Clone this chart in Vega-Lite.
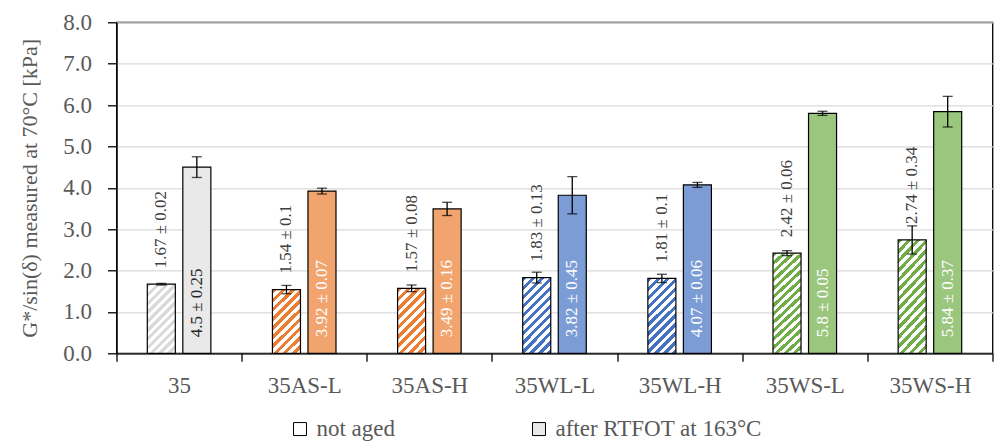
{
  "$schema": "https://vega.github.io/schema/vega-lite/v6.json",
  "autosize": {"type": "none"},
  "width": 876,
  "height": 331,
  "padding": {"left": 116.5, "top": 22.3, "right": 1.5, "bottom": 88},
  "background": "white",
  "config": {
    "view": {"stroke": "black", "strokeWidth": 1.3},
    "font": "Liberation Serif"
  },
  "data": {
    "values": [
      {"cat": "35", "family": "35", "group": "not aged", "value": 1.67, "sd": 0.02, "label": "1.67 ± 0.02"},
      {"cat": "35", "family": "35", "group": "after RTFOT at 163°C", "value": 4.5, "sd": 0.25, "label": "4.5 ± 0.25"},
      {"cat": "35AS-L", "family": "AS", "group": "not aged", "value": 1.54, "sd": 0.1, "label": "1.54 ± 0.1"},
      {"cat": "35AS-L", "family": "AS", "group": "after RTFOT at 163°C", "value": 3.92, "sd": 0.07, "label": "3.92 ± 0.07"},
      {"cat": "35AS-H", "family": "AS", "group": "not aged", "value": 1.57, "sd": 0.08, "label": "1.57 ± 0.08"},
      {"cat": "35AS-H", "family": "AS", "group": "after RTFOT at 163°C", "value": 3.49, "sd": 0.16, "label": "3.49 ± 0.16"},
      {"cat": "35WL-L", "family": "WL", "group": "not aged", "value": 1.83, "sd": 0.13, "label": "1.83 ± 0.13"},
      {"cat": "35WL-L", "family": "WL", "group": "after RTFOT at 163°C", "value": 3.82, "sd": 0.45, "label": "3.82 ± 0.45"},
      {"cat": "35WL-H", "family": "WL", "group": "not aged", "value": 1.81, "sd": 0.1, "label": "1.81 ± 0.1"},
      {"cat": "35WL-H", "family": "WL", "group": "after RTFOT at 163°C", "value": 4.07, "sd": 0.06, "label": "4.07 ± 0.06"},
      {"cat": "35WS-L", "family": "WS", "group": "not aged", "value": 2.42, "sd": 0.06, "label": "2.42 ± 0.06"},
      {"cat": "35WS-L", "family": "WS", "group": "after RTFOT at 163°C", "value": 5.8, "sd": 0.05, "label": "5.8 ± 0.05"},
      {"cat": "35WS-H", "family": "WS", "group": "not aged", "value": 2.74, "sd": 0.34, "label": "2.74 ± 0.34"},
      {"cat": "35WS-H", "family": "WS", "group": "after RTFOT at 163°C", "value": 5.84, "sd": 0.37, "label": "5.84 ± 0.37"}
    ]
  },
  "encoding": {
    "x": {
      "field": "cat", "type": "nominal", "sort": null, "title": null,
      "scale": {"paddingInner": 0, "paddingOuter": 0},
      "axis": {"labelAngle": 0, "tickBand": "extent", "tickSize": 8, "tickColor": "black", "tickWidth": 1.3, "domainColor": "black", "domainWidth": 1.3, "labelFont": "Liberation Serif", "labelFontSize": 23, "labelColor": "#595959", "labelPadding": 13, "grid": false}
    },
    "xOffset": {
      "field": "group", "type": "nominal",
      "scale": {"domain": ["not aged", "after RTFOT at 163°C"], "paddingInner": 0.211, "paddingOuter": 0.867}
    },
    "y": {
      "field": "value", "type": "quantitative", "title": "G*/sin(δ) measured at 70°C [kPa]",
      "scale": {"domain": [0, 8], "nice": false},
      "axis": {"values": [0, 1, 2, 3, 4, 5, 6, 7, 8], "format": ".1f", "tickSize": 9, "tickColor": "black", "tickWidth": 1.3, "domainColor": "black", "domainWidth": 1.3, "labelFont": "Liberation Serif", "labelFontSize": 23, "labelColor": "#595959", "labelPadding": 16, "grid": true, "gridColor": "#d9d9d9", "gridWidth": 1.3, "titleFont": "Liberation Serif", "titleFontSize": 22, "titleFontWeight": "normal", "titleColor": "#595959", "titlePadding": 21}
    }
  },
  "layer": [
    {
      "mark": {"type": "bar"},
      "encoding": {
        "fill": {
          "field": "group", "type": "nominal",
          "scale": {"domain": ["not aged", "after RTFOT at 163°C"], "range": ["#ffffff", "#e9e9e9"]},
          "legend": {
            "orient": "none", "legendX": 172, "legendY": 395, "direction": "horizontal", "title": null,
            "symbolType": "square", "symbolSize": 169, "symbolStrokeColor": "black", "symbolStrokeWidth": 1,
            "labelFont": "Liberation Serif", "labelFontSize": 23, "labelColor": "#595959", "labelOffset": 5,
            "columnPadding": 132, "padding": 0, "labelLimit": 400
          }
        }
      }
    },
    {
      "mark": {"type": "bar", "stroke": "black", "strokeWidth": 1.2},
      "encoding": {
        "fill": {
          "condition": [
            {"test": "datum.group !== 'not aged' && datum.family === '35'", "value": "#e9e9e9"},
            {"test": "datum.group !== 'not aged' && datum.family === 'AS'", "value": "#f2a46f"},
            {"test": "datum.group !== 'not aged' && datum.family === 'WL'", "value": "#7c9cd6"},
            {"test": "datum.group !== 'not aged' && datum.family === 'WS'", "value": "#9bc67e"},
            {"test": "datum.family === '35'", "value": {"gradient": "linear", "x1": 0, "y1": 0, "x2": 0.49, "y2": 1.207, "stops": [
              {"offset": 0, "color": "#dadada"}, {"offset": 0.0455, "color": "#dadada"}, {"offset": 0.0455, "color": "#ffffff"}, {"offset": 0.0909, "color": "#ffffff"},
              {"offset": 0.0909, "color": "#dadada"}, {"offset": 0.1364, "color": "#dadada"}, {"offset": 0.1364, "color": "#ffffff"}, {"offset": 0.1818, "color": "#ffffff"},
              {"offset": 0.1818, "color": "#dadada"}, {"offset": 0.2273, "color": "#dadada"}, {"offset": 0.2273, "color": "#ffffff"}, {"offset": 0.2727, "color": "#ffffff"},
              {"offset": 0.2727, "color": "#dadada"}, {"offset": 0.3182, "color": "#dadada"}, {"offset": 0.3182, "color": "#ffffff"}, {"offset": 0.3636, "color": "#ffffff"},
              {"offset": 0.3636, "color": "#dadada"}, {"offset": 0.4091, "color": "#dadada"}, {"offset": 0.4091, "color": "#ffffff"}, {"offset": 0.4545, "color": "#ffffff"},
              {"offset": 0.4545, "color": "#dadada"}, {"offset": 0.5, "color": "#dadada"}, {"offset": 0.5, "color": "#ffffff"}, {"offset": 0.5455, "color": "#ffffff"},
              {"offset": 0.5455, "color": "#dadada"}, {"offset": 0.5909, "color": "#dadada"}, {"offset": 0.5909, "color": "#ffffff"}, {"offset": 0.6364, "color": "#ffffff"},
              {"offset": 0.6364, "color": "#dadada"}, {"offset": 0.6818, "color": "#dadada"}, {"offset": 0.6818, "color": "#ffffff"}, {"offset": 0.7273, "color": "#ffffff"},
              {"offset": 0.7273, "color": "#dadada"}, {"offset": 0.7727, "color": "#dadada"}, {"offset": 0.7727, "color": "#ffffff"}, {"offset": 0.8182, "color": "#ffffff"},
              {"offset": 0.8182, "color": "#dadada"}, {"offset": 0.8636, "color": "#dadada"}, {"offset": 0.8636, "color": "#ffffff"}, {"offset": 0.9091, "color": "#ffffff"},
              {"offset": 0.9091, "color": "#dadada"}, {"offset": 0.9545, "color": "#dadada"}, {"offset": 0.9545, "color": "#ffffff"}, {"offset": 1, "color": "#ffffff"}]}},
            {"test": "datum.family === 'AS'", "value": {"gradient": "linear", "x1": 0, "y1": 0, "x2": 0.525, "y2": 1.207, "stops": [
              {"offset": 0, "color": "#ed7d31"}, {"offset": 0.05, "color": "#ed7d31"}, {"offset": 0.05, "color": "#ffffff"}, {"offset": 0.1, "color": "#ffffff"},
              {"offset": 0.1, "color": "#ed7d31"}, {"offset": 0.15, "color": "#ed7d31"}, {"offset": 0.15, "color": "#ffffff"}, {"offset": 0.2, "color": "#ffffff"},
              {"offset": 0.2, "color": "#ed7d31"}, {"offset": 0.25, "color": "#ed7d31"}, {"offset": 0.25, "color": "#ffffff"}, {"offset": 0.3, "color": "#ffffff"},
              {"offset": 0.3, "color": "#ed7d31"}, {"offset": 0.35, "color": "#ed7d31"}, {"offset": 0.35, "color": "#ffffff"}, {"offset": 0.4, "color": "#ffffff"},
              {"offset": 0.4, "color": "#ed7d31"}, {"offset": 0.45, "color": "#ed7d31"}, {"offset": 0.45, "color": "#ffffff"}, {"offset": 0.5, "color": "#ffffff"},
              {"offset": 0.5, "color": "#ed7d31"}, {"offset": 0.55, "color": "#ed7d31"}, {"offset": 0.55, "color": "#ffffff"}, {"offset": 0.6, "color": "#ffffff"},
              {"offset": 0.6, "color": "#ed7d31"}, {"offset": 0.65, "color": "#ed7d31"}, {"offset": 0.65, "color": "#ffffff"}, {"offset": 0.7, "color": "#ffffff"},
              {"offset": 0.7, "color": "#ed7d31"}, {"offset": 0.75, "color": "#ed7d31"}, {"offset": 0.75, "color": "#ffffff"}, {"offset": 0.8, "color": "#ffffff"},
              {"offset": 0.8, "color": "#ed7d31"}, {"offset": 0.85, "color": "#ed7d31"}, {"offset": 0.85, "color": "#ffffff"}, {"offset": 0.9, "color": "#ffffff"},
              {"offset": 0.9, "color": "#ed7d31"}, {"offset": 0.95, "color": "#ed7d31"}, {"offset": 0.95, "color": "#ffffff"}, {"offset": 1, "color": "#ffffff"}]}},
            {"test": "datum.family === 'WL'", "value": {"gradient": "linear", "x1": 0, "y1": 0, "x2": 0.448, "y2": 1.205, "stops": [
              {"offset": 0, "color": "#4472c4"}, {"offset": 0.0435, "color": "#4472c4"}, {"offset": 0.0435, "color": "#ffffff"}, {"offset": 0.087, "color": "#ffffff"},
              {"offset": 0.087, "color": "#4472c4"}, {"offset": 0.1304, "color": "#4472c4"}, {"offset": 0.1304, "color": "#ffffff"}, {"offset": 0.1739, "color": "#ffffff"},
              {"offset": 0.1739, "color": "#4472c4"}, {"offset": 0.2174, "color": "#4472c4"}, {"offset": 0.2174, "color": "#ffffff"}, {"offset": 0.2609, "color": "#ffffff"},
              {"offset": 0.2609, "color": "#4472c4"}, {"offset": 0.3043, "color": "#4472c4"}, {"offset": 0.3043, "color": "#ffffff"}, {"offset": 0.3478, "color": "#ffffff"},
              {"offset": 0.3478, "color": "#4472c4"}, {"offset": 0.3913, "color": "#4472c4"}, {"offset": 0.3913, "color": "#ffffff"}, {"offset": 0.4348, "color": "#ffffff"},
              {"offset": 0.4348, "color": "#4472c4"}, {"offset": 0.4783, "color": "#4472c4"}, {"offset": 0.4783, "color": "#ffffff"}, {"offset": 0.5217, "color": "#ffffff"},
              {"offset": 0.5217, "color": "#4472c4"}, {"offset": 0.5652, "color": "#4472c4"}, {"offset": 0.5652, "color": "#ffffff"}, {"offset": 0.6087, "color": "#ffffff"},
              {"offset": 0.6087, "color": "#4472c4"}, {"offset": 0.6522, "color": "#4472c4"}, {"offset": 0.6522, "color": "#ffffff"}, {"offset": 0.6957, "color": "#ffffff"},
              {"offset": 0.6957, "color": "#4472c4"}, {"offset": 0.7391, "color": "#4472c4"}, {"offset": 0.7391, "color": "#ffffff"}, {"offset": 0.7826, "color": "#ffffff"},
              {"offset": 0.7826, "color": "#4472c4"}, {"offset": 0.8261, "color": "#4472c4"}, {"offset": 0.8261, "color": "#ffffff"}, {"offset": 0.8696, "color": "#ffffff"},
              {"offset": 0.8696, "color": "#4472c4"}, {"offset": 0.913, "color": "#4472c4"}, {"offset": 0.913, "color": "#ffffff"}, {"offset": 0.9565, "color": "#ffffff"},
              {"offset": 0.9565, "color": "#4472c4"}, {"offset": 1, "color": "#4472c4"}]}}
          ],
          "value": {"gradient": "linear", "x1": 0, "y1": 0, "x2": 0.31, "y2": 1.181, "stops": [
            {"offset": 0, "color": "#70ad47"}, {"offset": 0.0333, "color": "#70ad47"}, {"offset": 0.0333, "color": "#ffffff"}, {"offset": 0.0667, "color": "#ffffff"},
            {"offset": 0.0667, "color": "#70ad47"}, {"offset": 0.1, "color": "#70ad47"}, {"offset": 0.1, "color": "#ffffff"}, {"offset": 0.1333, "color": "#ffffff"},
            {"offset": 0.1333, "color": "#70ad47"}, {"offset": 0.1667, "color": "#70ad47"}, {"offset": 0.1667, "color": "#ffffff"}, {"offset": 0.2, "color": "#ffffff"},
            {"offset": 0.2, "color": "#70ad47"}, {"offset": 0.2333, "color": "#70ad47"}, {"offset": 0.2333, "color": "#ffffff"}, {"offset": 0.2667, "color": "#ffffff"},
            {"offset": 0.2667, "color": "#70ad47"}, {"offset": 0.3, "color": "#70ad47"}, {"offset": 0.3, "color": "#ffffff"}, {"offset": 0.3333, "color": "#ffffff"},
            {"offset": 0.3333, "color": "#70ad47"}, {"offset": 0.3667, "color": "#70ad47"}, {"offset": 0.3667, "color": "#ffffff"}, {"offset": 0.4, "color": "#ffffff"},
            {"offset": 0.4, "color": "#70ad47"}, {"offset": 0.4333, "color": "#70ad47"}, {"offset": 0.4333, "color": "#ffffff"}, {"offset": 0.4667, "color": "#ffffff"},
            {"offset": 0.4667, "color": "#70ad47"}, {"offset": 0.5, "color": "#70ad47"}, {"offset": 0.5, "color": "#ffffff"}, {"offset": 0.5333, "color": "#ffffff"},
            {"offset": 0.5333, "color": "#70ad47"}, {"offset": 0.5667, "color": "#70ad47"}, {"offset": 0.5667, "color": "#ffffff"}, {"offset": 0.6, "color": "#ffffff"},
            {"offset": 0.6, "color": "#70ad47"}, {"offset": 0.6333, "color": "#70ad47"}, {"offset": 0.6333, "color": "#ffffff"}, {"offset": 0.6667, "color": "#ffffff"},
            {"offset": 0.6667, "color": "#70ad47"}, {"offset": 0.7, "color": "#70ad47"}, {"offset": 0.7, "color": "#ffffff"}, {"offset": 0.7333, "color": "#ffffff"},
            {"offset": 0.7333, "color": "#70ad47"}, {"offset": 0.7667, "color": "#70ad47"}, {"offset": 0.7667, "color": "#ffffff"}, {"offset": 0.8, "color": "#ffffff"},
            {"offset": 0.8, "color": "#70ad47"}, {"offset": 0.8333, "color": "#70ad47"}, {"offset": 0.8333, "color": "#ffffff"}, {"offset": 0.8667, "color": "#ffffff"},
            {"offset": 0.8667, "color": "#70ad47"}, {"offset": 0.9, "color": "#70ad47"}, {"offset": 0.9, "color": "#ffffff"}, {"offset": 0.9333, "color": "#ffffff"},
            {"offset": 0.9333, "color": "#70ad47"}, {"offset": 0.9667, "color": "#70ad47"}, {"offset": 0.9667, "color": "#ffffff"}, {"offset": 1, "color": "#ffffff"}]}
        }
      }
    },
    {
      "mark": {"type": "errorbar", "ticks": {"size": 10}, "color": "black", "thickness": 1.3},
      "encoding": {
        "yError": {"field": "sd"}
      }
    },
    {
      "transform": [{"filter": "datum.group === 'not aged'"}],
      "mark": {"type": "text", "angle": 270, "align": "left", "baseline": "middle", "dx": 16, "font": "Liberation Serif", "fontSize": 17, "color": "#404040"},
      "encoding": {
        "text": {"field": "label"}
      }
    },
    {
      "transform": [{"filter": "datum.group !== 'not aged'"}],
      "mark": {"type": "text", "angle": 270, "align": "left", "baseline": "middle", "dx": 16, "font": "Liberation Serif", "fontSize": 17},
      "encoding": {
        "y": {"datum": 0, "type": "quantitative", "title": "G*/sin(δ) measured at 70°C [kPa]"},
        "text": {"field": "label"},
        "color": {"condition": {"test": "datum.family === '35'", "value": "#262626"}, "value": "#ffffff"}
      }
    }
  ]
}
